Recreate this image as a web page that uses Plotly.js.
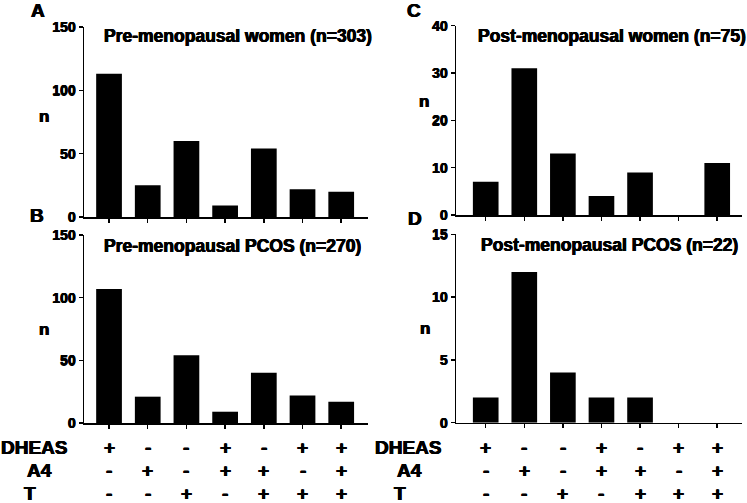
<!DOCTYPE html>
<html>
<head>
<meta charset="utf-8">
<script src="https://cdn.plot.ly/plotly-3.0.1.min.js"></script>
<style>
html,body{margin:0;padding:0;background:#fff;}
#chart{width:747px;height:503px;}
</style>
</head>
<body>
<div id="chart"></div>
<script>
// ---- data ----
const categories = [0, 1, 2, 3, 4, 5, 6];
const dheasRow = ['+', '-', '-', '+', '-', '+', '+'];
const a4Row    = ['-', '+', '-', '+', '+', '-', '+'];
const tRow     = ['-', '-', '+', '-', '+', '+', '+'];
const rowLabels = ['DHEAS', 'A4', 'T'];

const preWomen  = [113, 25, 60, 9, 54, 22, 20];
const prePCOS   = [107, 21, 54, 9, 40, 22, 17];
const postWomen = [7, 31, 13, 4, 9, 0, 11];
const postPCOS  = [2, 12, 4, 2, 2, 0, 0];

const panelTitles = ['Pre-menopausal women (n=303)', 'Pre-menopausal PCOS (n=270)',
                     'Post-menopausal women (n=75)', 'Post-menopausal PCOS (n=22)'];
const panelLetters = ['A', 'B', 'C', 'D'];
const yTickVals = [[0, 50, 100, 150], [0, 50, 100, 150], [0, 10, 20, 30, 40], [0, 5, 10, 15]];

// ---- layout helpers ----
const W = 747, H = 503;
const fx = px => px / W;
const fy = py => 1 - py / H;
const FONT = 'Liberation Sans, Arial, sans-serif';
const HEAVY = '0.45px 0 0 #000, -0.45px 0 0 #000, 0 0.3px 0 #000';

function bar(y, n) {
  const s = n === 1 ? '' : String(n);
  return {type: 'bar', x: categories, y: y, xaxis: 'x' + s, yaxis: 'y' + s,
          marker: {color: '#000000', line: {width: 0}}, hoverinfo: 'none', showlegend: false};
}
const data = [bar(preWomen, 1), bar(prePCOS, 2), bar(postWomen, 3), bar(postPCOS, 4)];

function xax(d0, d1, r0, r1, anchor) {
  return {domain: [fx(d0), fx(d1)], range: [r0, r1], anchor: anchor,
          showline: true, linecolor: '#000', linewidth: 1.5, showgrid: false, zeroline: false,
          ticks: 'outside', ticklen: 4, tickwidth: 1.5, tickcolor: '#000',
          tickvals: categories, showticklabels: false, fixedrange: true};
}
function yax(t0, t1, max, tv, anchor) {
  return {domain: [fy(t1), fy(t0)], range: [0, max], anchor: anchor,
          showline: true, linecolor: '#000', linewidth: 1.5, showgrid: false, zeroline: false,
          ticks: 'outside', ticklen: 4, tickwidth: 1.5, tickcolor: '#000',
          tickvals: tv, ticktext: tv.map(v => '<b>' + v + '</b>'),
          tickfont: {family: FONT, size: 14, color: '#000', shadow: HEAVY}, fixedrange: true};
}

const layout = {
  width: W, height: H,
  margin: {l: 0, r: 0, t: 0, b: 0},
  paper_bgcolor: '#fff', plot_bgcolor: '#fff',
  bargap: 0.335,
  showlegend: false,
  xaxis:  xax(84, 368.3, -0.647, 6.70, 'y'),
  yaxis:  yax(27, 217, 150, yTickVals[0], 'x'),
  xaxis2: xax(84, 368.3, -0.647, 6.70, 'y2'),
  yaxis2: yax(235, 423, 150, yTickVals[1], 'x2'),
  xaxis3: xax(456, 742.3, -0.77, 6.65, 'y3'),
  yaxis3: yax(25.7, 215, 40, yTickVals[2], 'x3'),
  xaxis4: xax(456, 742.3, -0.77, 6.65, 'y4'),
  yaxis4: yax(234.3, 422.7, 15, yTickVals[3], 'x4'),
  annotations: []
};

function note(text, x, y, size, xanchor, xref) {
  layout.annotations.push({text: '<b>' + text + '</b>', x: x, y: y, xref: xref || 'paper', yref: 'paper',
    xanchor: xanchor || 'center', yanchor: 'middle', showarrow: false,
    font: {family: FONT, size: size, color: '#000', shadow: HEAVY}});
}

// panel letters
note(panelLetters[0], fx(37.5), fy(11), 19);
note(panelLetters[1], fx(37), fy(215), 19);
note(panelLetters[2], fx(414), fy(11), 19);
note(panelLetters[3], fx(415), fy(218), 19);

// in-plot titles
note(panelTitles[0], fx(102), fy(36), 17.5, 'left');
note(panelTitles[1], fx(102), fy(246), 17.5, 'left');
note(panelTitles[2], fx(476), fy(36), 17.5, 'left');
note(panelTitles[3], fx(479), fy(245), 17.5, 'left');

// y-axis "n"
note('n', fx(43.5), fy(116), 17);
note('n', fx(43.5), fy(329), 17);
note('n', fx(424.5), fy(101), 17);
note('n', fx(425), fy(328), 17);

// bottom sign tables
const rowY = [447.7, 470, 493.5];
const rows = [dheasRow, a4Row, tRow];
const leftLabelX = [[34, 39, 30], [408, 409, 400]];
['x2', 'x4'].forEach((xr, p) => {
  rowLabels.forEach((lab, r) => note(lab, fx(leftLabelX[p][r]), fy(rowY[r]), 19));
  rows.forEach((row, r) => {
    categories.forEach((c, i) => note(row[i], c, fy(rowY[r]), 19, 'center', xr));
  });
});

Plotly.newPlot('chart', data, layout, {staticPlot: true, displayModeBar: false});
</script>
</body>
</html>
